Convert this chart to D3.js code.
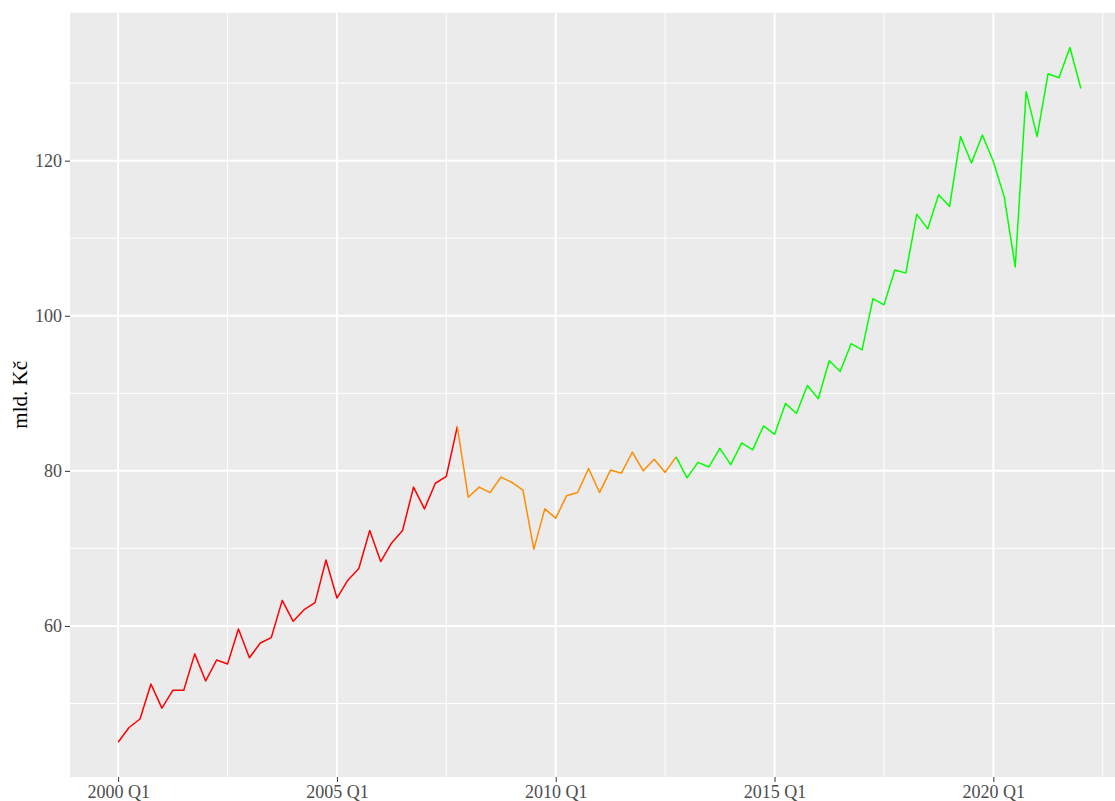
<!DOCTYPE html>
<html lang="cs">
<head>
<meta charset="UTF-8"/>
<title>mld. Kč</title>
<script src="https://d3js.org/d3.v7.min.js"></script>
<style>
    body { margin: 0; background: #fff; }
    svg { display: block; font-family: "Liberation Serif", "Times New Roman", serif; }
</style>
</head>
<body>
<script>
    // quarterly values, 2000 Q1 .. 2022 Q1 (mld. Kč)
    var values = [
        45.0, 46.9, 48.0, 52.5,
        49.4, 51.7, 51.7, 56.4,
        52.9, 55.6, 55.1, 59.6,
        55.9, 57.8, 58.5, 63.3,
        60.6, 62.1, 63.0, 68.5,
        63.6, 65.9, 67.4, 72.3,
        68.3, 70.7, 72.3, 77.9,
        75.1, 78.4, 79.3, 85.7,
        76.6, 77.9, 77.2, 79.2,
        78.5, 77.5, 69.9, 75.1,
        73.9, 76.8, 77.2, 80.3,
        77.2, 80.1, 79.7, 82.4,
        80.0, 81.5, 79.8, 81.8,
        79.1, 81.1, 80.5, 82.9,
        80.8, 83.6, 82.7, 85.8,
        84.7, 88.7, 87.4, 91.0,
        89.3, 94.2, 92.8, 96.4,
        95.6, 102.2, 101.4, 105.9,
        105.5, 113.1, 111.2, 115.6,
        114.1, 123.1, 119.7, 123.3,
        119.9, 115.3, 106.3, 128.9,
        123.1, 131.2, 130.7, 134.6,
        129.3
    ];

    var firstYear = 2000;
    var quarters = values.map(function(v, i) {
        return (firstYear + Math.floor(i / 4)) + " Q" + (i % 4 + 1);
    });

    // line periods (last quarter of each)
    var periodEnds = ["2007 Q4", "2012 Q4", "2022 Q1"];
    var periodColors = ["#FF0000", "#FF8C00", "#00FF00"];

    var xTicks = ["2000 Q1", "2005 Q1", "2010 Q1", "2015 Q1", "2020 Q1"];
    var yTicks = [60, 80, 100, 120];
    var yMinor = [50, 70, 90, 110, 130];

    var w = 1115, h = 801;
    var pLeft = 70, pTop = 12.7, pRight = 1129, pBottom = 777;

    var n = values.length - 1;
    var xScale = d3.scaleLinear()
        .domain([-0.05 * n, n * 1.05])
        .range([pLeft, pRight]);

    var ext = d3.extent(values);
    var pad = (ext[1] - ext[0]) * 0.05;
    var yScale = d3.scaleLinear()
        .domain([ext[0] - pad, ext[1] + pad])
        .range([pBottom, pTop]);

    var svg = d3.select("body").append("svg")
        .attr("width", w)
        .attr("height", h);

    // panel
    svg.append("rect")
        .attr("x", pLeft).attr("y", pTop)
        .attr("width", pRight - pLeft).attr("height", pBottom - pTop)
        .attr("fill", "#EBEBEB");

    var grid = svg.append("g");

    // minor gridlines
    var xMajorIdx = xTicks.map(function(q) { return quarters.indexOf(q); });
    var xMinorIdx = [];
    for (var k = -1; k < xMajorIdx.length; k++) {
        xMinorIdx.push(k < 0 ? xMajorIdx[0] - 10 : xMajorIdx[k] + 10);
    }
    grid.selectAll("line.yminor").data(yMinor).enter().append("line")
        .attr("class", "yminor")
        .attr("x1", pLeft).attr("x2", pRight)
        .attr("y1", yScale).attr("y2", yScale)
        .attr("stroke", "#fff").attr("stroke-width", 1);
    grid.selectAll("line.xminor").data(xMinorIdx.filter(function(d) {
            return xScale(d) > pLeft;
        })).enter().append("line")
        .attr("class", "xminor")
        .attr("y1", pTop).attr("y2", pBottom)
        .attr("x1", xScale).attr("x2", xScale)
        .attr("stroke", "#fff").attr("stroke-width", 1);

    // major gridlines
    grid.selectAll("line.ymajor").data(yTicks).enter().append("line")
        .attr("class", "ymajor")
        .attr("x1", pLeft).attr("x2", pRight)
        .attr("y1", yScale).attr("y2", yScale)
        .attr("stroke", "#fff").attr("stroke-width", 2);
    grid.selectAll("line.xmajor").data(xMajorIdx).enter().append("line")
        .attr("class", "xmajor")
        .attr("y1", pTop).attr("y2", pBottom)
        .attr("x1", xScale).attr("x2", xScale)
        .attr("stroke", "#fff").attr("stroke-width", 2);

    // line, one path per period
    var line = d3.line()
        .x(function(d) { return xScale(d.i); })
        .y(function(d) { return yScale(d.v); });
    var points = values.map(function(v, i) { return {i: i, v: v}; });
    var start = 0;
    periodEnds.forEach(function(q, p) {
        var end = quarters.indexOf(q);
        svg.append("path")
            .datum(points.slice(start, end + 1))
            .attr("d", line)
            .attr("fill", "none")
            .attr("stroke", periodColors[p])
            .attr("stroke-width", 1.5)
            .attr("stroke-linejoin", "round");
        start = end;
    });

    // axes
    var xAxis = d3.axisBottom(xScale)
        .tickValues(xMajorIdx)
        .tickFormat(function(d) { return quarters[d]; })
        .tickSize(5).tickPadding(3);
    var gx = svg.append("g")
        .attr("transform", "translate(0," + pBottom + ")")
        .call(xAxis);

    var yAxis = d3.axisLeft(yScale)
        .tickValues(yTicks)
        .tickSize(5).tickPadding(3);
    var gy = svg.append("g")
        .attr("transform", "translate(" + pLeft + ",0)")
        .call(yAxis);

    [gx, gy].forEach(function(g) {
        g.select(".domain").remove();
        g.selectAll(".tick line").attr("stroke", "#333333").attr("stroke-width", 1);
        g.selectAll(".tick text")
            .attr("fill", "#4D4D4D")
            .style("font-family", "'Liberation Serif', serif")
            .style("font-size", "18px");
    });

    // y axis title
    svg.append("text")
        .attr("transform", "rotate(-90)")
        .attr("x", -(pTop + pBottom) / 2)
        .attr("y", 27)
        .attr("text-anchor", "middle")
        .attr("font-size", "21px")
        .attr("fill", "black")
        .text("mld. Kč");
</script>
</body>
</html>
